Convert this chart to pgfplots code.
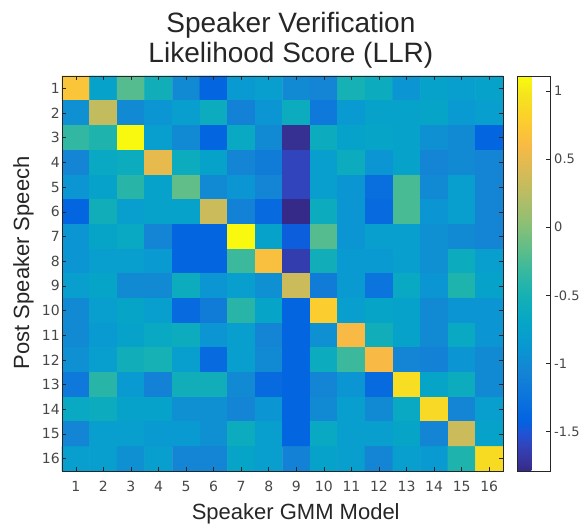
\documentclass[border=0pt]{standalone}
\usepackage{fontspec}
\setmainfont{Liberation Sans}
\newfontfamily\tickfont{DejaVu Sans}
\usepackage{pgfplots}
\usepackage{pgfplotstable}
\pgfplotsset{compat=1.18}
\definecolor{axgray}{rgb}{0.15,0.15,0.15}
\definecolor{tickgray}{rgb}{0.28,0.28,0.28}
\pgfplotsset{colormap={parula}{
rgb(0pt)=(0.2081,0.1663,0.5292)
rgb(2pt)=(0.2123,0.2138,0.6270)
rgb(4pt)=(0.1959,0.2645,0.7279)
rgb(6pt)=(0.1253,0.3242,0.8303)
rgb(8pt)=(0.0117,0.3875,0.8820)
rgb(12pt)=(0.0498,0.4586,0.8641)
rgb(16pt)=(0.0793,0.5200,0.8312)
rgb(20pt)=(0.0343,0.5966,0.8199)
rgb(24pt)=(0.0228,0.6535,0.7768)
rgb(28pt)=(0.0843,0.6928,0.7062)
rgb(32pt)=(0.2178,0.7250,0.6193)
rgb(36pt)=(0.3953,0.7459,0.5244)
rgb(40pt)=(0.5709,0.7485,0.4494)
rgb(44pt)=(0.7184,0.7411,0.3905)
rgb(48pt)=(0.8507,0.7299,0.3360)
rgb(52pt)=(0.9739,0.7314,0.2666)
rgb(56pt)=(0.9880,0.8066,0.1794)
rgb(60pt)=(0.9589,0.8949,0.1132)
rgb(63pt)=(0.9763,0.9831,0.0538)
}}
\pgfplotstableread{
x y C
1 1 0.70
2 1 -0.75
3 1 -0.20
4 1 -0.55
5 1 -1.00
6 1 -1.40
7 1 -0.85
8 1 -0.80
9 1 -1.00
10 1 -1.05
11 1 -0.50
12 1 -0.60
13 1 -0.90
14 1 -0.75
15 1 -0.80
16 1 -0.75
1 2 -0.95
2 2 0.30
3 2 -1.00
4 2 -0.90
5 2 -0.80
6 2 -0.60
7 2 -1.10
8 2 -0.90
9 2 -0.60
10 2 -1.20
11 2 -0.85
12 2 -0.75
13 2 -0.75
14 2 -0.70
15 2 -0.85
16 2 -0.80
1 3 -0.35
2 3 -0.45
3 3 1.10
4 3 -0.80
5 3 -1.00
6 3 -1.40
7 3 -0.65
8 3 -1.00
9 3 -1.75
10 3 -0.60
11 3 -0.75
12 3 -0.70
13 3 -0.75
14 3 -0.95
15 3 -1.00
16 3 -1.40
1 4 -1.05
2 4 -0.65
3 4 -0.60
4 4 0.50
5 4 -0.60
6 4 -0.75
7 4 -1.05
8 4 -1.15
9 4 -1.60
10 4 -0.80
11 4 -0.60
12 4 -0.90
13 4 -0.75
14 4 -1.05
15 4 -1.00
16 4 -1.05
1 5 -0.90
2 5 -0.75
3 5 -0.40
4 5 -0.75
5 5 -0.15
6 5 -1.00
7 5 -0.90
8 5 -1.05
9 5 -1.60
10 5 -0.80
11 5 -0.90
12 5 -1.30
13 5 -0.25
14 5 -1.00
15 5 -0.80
16 5 -1.05
1 6 -1.40
2 6 -0.55
3 6 -0.80
4 6 -0.75
5 6 -0.75
6 6 0.35
7 6 -1.10
8 6 -1.35
9 6 -1.80
10 6 -0.60
11 6 -0.90
12 6 -1.35
13 6 -0.25
14 6 -0.90
15 6 -0.80
16 6 -1.05
1 7 -0.90
2 7 -0.70
3 7 -0.65
4 7 -1.05
5 7 -1.40
6 7 -1.40
7 7 1.10
8 7 -0.75
9 7 -1.45
10 7 -0.20
11 7 -0.90
12 7 -0.80
13 7 -0.80
14 7 -0.95
15 7 -1.00
16 7 -1.05
1 8 -0.90
2 8 -0.80
3 8 -0.80
4 8 -0.85
5 8 -1.40
6 8 -1.40
7 8 -0.30
8 8 0.65
9 8 -1.65
10 8 -0.55
11 8 -0.85
12 8 -0.85
13 8 -0.80
14 8 -0.95
15 8 -0.60
16 8 -0.80
1 9 -0.80
2 9 -0.70
3 9 -1.00
4 9 -1.00
5 9 -0.60
6 9 -0.90
7 9 -0.80
8 9 -0.95
9 9 0.35
10 9 -1.15
11 9 -0.85
12 9 -1.25
13 9 -0.65
14 9 -0.90
15 9 -0.45
16 9 -0.75
1 10 -1.00
2 10 -0.80
3 10 -0.70
4 10 -0.80
5 10 -1.35
6 10 -1.15
7 10 -0.40
8 10 -0.70
9 10 -1.40
10 10 0.78
11 10 -0.80
12 10 -0.70
13 10 -0.75
14 10 -1.00
15 10 -0.90
16 10 -0.90
1 11 -1.00
2 11 -0.85
3 11 -0.75
4 11 -0.65
5 11 -0.60
6 11 -0.90
7 11 -0.80
8 11 -1.05
9 11 -1.40
10 11 -0.95
11 11 0.60
12 11 -0.55
13 11 -0.75
14 11 -1.00
15 11 -0.65
16 11 -0.90
1 12 -0.95
2 12 -0.80
3 12 -0.55
4 12 -0.50
5 12 -0.80
6 12 -1.35
7 12 -0.80
8 12 -1.00
9 12 -1.40
10 12 -0.60
11 12 -0.30
12 12 0.60
13 12 -1.05
14 12 -1.10
15 12 -0.90
16 12 -1.00
1 13 -1.20
2 13 -0.40
3 13 -0.85
4 13 -1.10
5 13 -0.55
6 13 -0.55
7 13 -1.00
8 13 -1.35
9 13 -1.40
10 13 -1.05
11 13 -0.90
12 13 -1.35
13 13 0.92
14 13 -0.70
15 13 -0.60
16 13 -1.00
1 14 -0.65
2 14 -0.60
3 14 -0.75
4 14 -0.75
5 14 -0.95
6 14 -0.95
7 14 -1.05
8 14 -0.90
9 14 -1.40
10 14 -1.00
11 14 -0.80
12 14 -1.00
13 14 -0.65
14 14 0.88
15 14 -1.05
16 14 -0.80
1 15 -1.05
2 15 -0.80
3 15 -0.80
4 15 -0.85
5 15 -0.85
6 15 -0.95
7 15 -0.60
8 15 -0.80
9 15 -1.40
10 15 -0.65
11 15 -0.80
12 15 -0.80
13 15 -0.70
14 15 -1.05
15 15 0.35
16 15 -0.75
1 16 -0.80
2 16 -0.80
3 16 -0.95
4 16 -0.80
5 16 -1.05
6 16 -1.05
7 16 -0.70
8 16 -0.80
9 16 -1.10
10 16 -0.75
11 16 -0.80
12 16 -1.05
13 16 -0.80
14 16 -0.85
15 16 -0.45
16 16 0.90
}\llrdata
\begin{document}
\begin{tikzpicture}
\begin{axis}[
  name=main, at={(0pt,0pt)}, anchor=south west,
  scale only axis, width=441pt, height=395pt,
  xmin=0.5, xmax=16.5, ymin=0.5, ymax=16.5, y dir=reverse,
  enlargelimits=false,
  xtick={1,...,16}, ytick={1,...,16},
  tick align=inside, major tick length=4pt,
  axis line style={axgray, line width=0.6pt},
  every tick/.style={axgray, line width=0.5pt},
  ticklabel style={font=\tickfont\fontsize{14}{16}\selectfont, text=tickgray},
  xticklabel style={yshift=-6.5pt},
  yticklabel style={inner sep=2pt},
  /pgf/number format/assume math mode=true,
  colormap name=parula,
  point meta min=-1.79, point meta max=1.11,
  axis on top,
  title={Speaker Verification\\Likelihood Score (LLR)},
  title style={align=center, font=\fontsize{28}{30}\selectfont, text=axgray, inner sep=0pt,
    at={(axis description cs:0.519,1)}, anchor=south, yshift=2pt},
  xlabel={Speaker GMM Model},
  xlabel style={font=\fontsize{22}{26}\selectfont, text=axgray, inner sep=0pt,
    at={(axis description cs:0.53,-0.124)}, anchor=base},
  ylabel={Post Speaker Speech},
  ylabel style={font=\fontsize{22}{26}\selectfont, text=axgray, inner sep=0pt,
    at={(axis description cs:-0.0748,0.527)}, anchor=base},
  colorbar,
  colorbar style={
    scale only axis,
    at={(parent axis.north east)}, anchor=north west, xshift=5.5pt,
    width=33pt, height=395pt,
    ytick={-1.5,-1,-0.5,0,0.5,1},
    yticklabels={-1.5,-1,-0.5,0,0.5,1},
    tick align=inside, major tick length=4pt,
    ytick pos=right, yticklabel pos=right,
    axis line style={axgray, line width=0.6pt},
    every tick/.style={axgray, line width=0.5pt},
    yticklabel style={font=\tickfont\fontsize{13}{15}\selectfont, text=tickgray, inner sep=0pt, anchor=west, xshift=4pt},
  },
]
\addplot[matrix plot*, mesh/cols=16, mesh/rows=16, point meta=explicit] table[x=x, y=y, meta=C] {\llrdata};
\end{axis}
\pgfresetboundingbox
\path[use as bounding box] (-62pt,-53pt) rectangle (521pt,471pt);
\end{tikzpicture}
\end{document}
